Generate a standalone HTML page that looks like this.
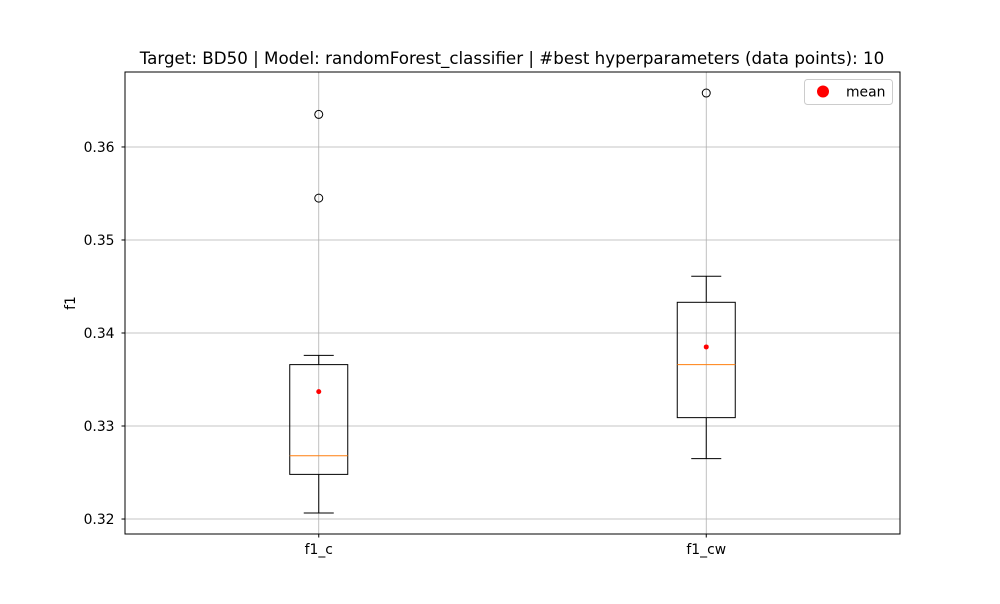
<!DOCTYPE html>
<html><head><meta charset="utf-8"><style>
body{margin:0;background:#fff;font-family:"DejaVu Sans","Liberation Sans",sans-serif}
svg text{font-family:"DejaVu Sans","Liberation Sans",sans-serif}
</style></head><body>
<svg id="chart" width="1000" height="600" xmlns="http://www.w3.org/2000/svg">
<rect width="1000" height="600" fill="#fff"/>
<text x="512" y="64" font-size="16.7" text-anchor="middle" fill="#000">Target: BD50 | Model: randomForest_classifier | #best hyperparameters (data points): 10</text>
<g id="grid"></g><g id="marks"></g><g id="axes"></g>
<text transform="translate(75,303) rotate(-90)" font-size="13.9" text-anchor="middle">f1</text>
<g>
<rect x="804.5" y="79.5" width="88" height="25" rx="3" fill="#fff" stroke="#ccc"/>
<circle cx="823" cy="91.5" r="6" fill="red"/>
<text x="846" y="96.5" font-size="13.9">mean</text>
</g>
</svg>
<script>
const categories=["f1_c","f1_cw"];
const whiskerLow=[0.32065,0.3265];
const q1=[0.3248,0.3309];
const median=[0.3268,0.3366];
const q3=[0.3366,0.3433];
const whiskerHigh=[0.3376,0.3461];
const means=[0.3337,0.3385];
const fliers=[[0.3635,0.3545],[0.3658]];
const yTicks=[0.32,0.33,0.34,0.35,0.36];
const L=125,R=900,T=72,B=534;
const y0=0.31839,y1=0.36806;
const Y=v=>B-(v-y0)/(y1-y0)*(B-T);
const X=i=>L+(R-L)*(i+0.5)/categories.length;
const NS="http://www.w3.org/2000/svg";
function mk(p,t,a){const e=document.createElementNS(NS,t);for(const k in a)e.setAttribute(k,a[k]);document.getElementById(p).appendChild(e);return e;}
yTicks.forEach(v=>{const y=Y(v);
let g=mk('grid','line',{x1:L,x2:R,y1:y,y2:y,stroke:'#b0b0b0','stroke-width':0.8});


mk('axes','line',{x1:L-3.5,x2:L,y1:y,y2:y,stroke:'#000'});
let t=mk('axes','text',{x:L-10.5,y:y+5,'font-size':13.9,'text-anchor':'end'});t.textContent=v.toFixed(2);

});
categories.forEach((c,i)=>{const x=X(i);
let g=mk('grid','line',{x1:x,x2:x,y1:T,y2:B,stroke:'#b0b0b0','stroke-width':0.8});


mk('axes','line',{x1:x,x2:x,y1:B,y2:B+3.5,stroke:'#000'});
let t=mk('axes','text',{x:x,y:B+20,'font-size':13.9,'text-anchor':'middle'});t.textContent=c;


const bw=58,cw=30;
mk('marks','line',{x1:x,x2:x,y1:Y(whiskerLow[i]),y2:Y(q1[i]),stroke:'#000'});
mk('marks','line',{x1:x,x2:x,y1:Y(q3[i]),y2:Y(whiskerHigh[i]),stroke:'#000'});
mk('marks','line',{x1:x-cw/2,x2:x+cw/2,y1:Y(whiskerLow[i]),y2:Y(whiskerLow[i]),stroke:'#000'});
mk('marks','line',{x1:x-cw/2,x2:x+cw/2,y1:Y(whiskerHigh[i]),y2:Y(whiskerHigh[i]),stroke:'#000'});
let b=mk('marks','rect',{x:x-bw/2,y:Y(q3[i]),width:bw,height:Y(q1[i])-Y(q3[i]),fill:'none',stroke:'#000'});


mk('marks','line',{x1:x-bw/2,x2:x+bw/2,y1:Y(median[i]),y2:Y(median[i]),stroke:'#ff7f0e'});
fliers[i].forEach(v=>{let f=mk('marks','circle',{cx:x,cy:Y(v),r:4,fill:'none',stroke:'#000'});

});
let m=mk('marks','circle',{cx:x,cy:Y(means[i]),r:2.5,fill:'red'});


});
mk('axes','rect',{x:L,y:T,width:R-L,height:B-T,fill:'none',stroke:'#000'});
</script>
</body></html>
